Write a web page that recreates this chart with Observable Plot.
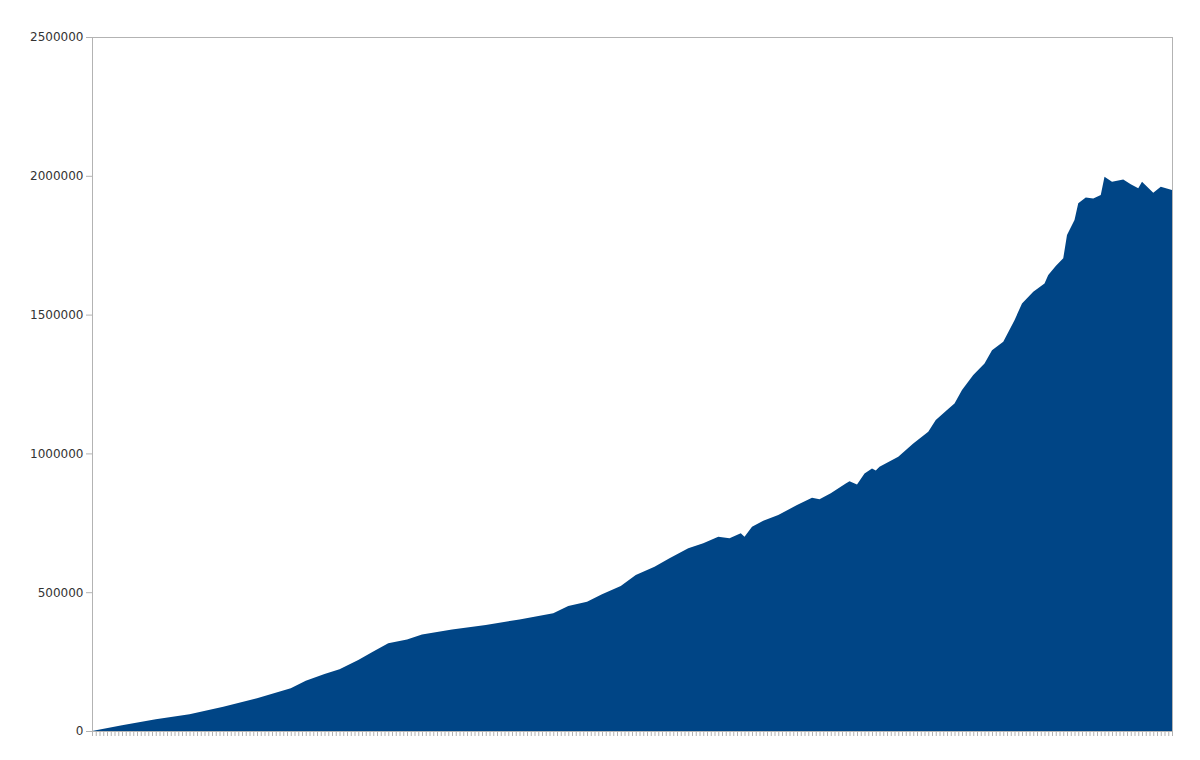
<!DOCTYPE html>
<html>
<head>
<meta charset="utf-8">
<script src="https://cdn.jsdelivr.net/npm/d3@7"></script>
<script src="https://cdn.jsdelivr.net/npm/@observablehq/plot@0.6"></script>
<style>
  html, body { margin: 0; padding: 0; background: #fff; }
  #chart { width: 1200px; height: 760px; }
</style>
</head>
<body>
<div id="chart"></div>
<script>
// Category index (month number along the x axis) and value
const months = [0, 8, 17, 26, 35, 44, 53, 57, 62, 66, 71, 75, 79, 84, 88, 96, 105, 114, 123, 127,
  132, 136, 141, 145, 150, 154, 159, 163, 167, 170, 173, 174, 176, 179, 183, 188, 192, 194, 197, 201,
  202, 204, 206, 208, 209, 210, 215, 219, 223, 225, 228, 230, 232, 235, 238, 240, 243, 246, 248, 251,
  254, 255, 257, 259, 260, 262, 263, 265, 267, 269, 270, 272, 275, 277, 279, 280, 283, 285, 288];
const values = [0, 21000, 42000, 60000, 87500, 118000, 154000, 181000, 205000, 222000, 256000, 286000, 316000, 330000, 348000, 366000, 382000, 402000, 424000, 450000,
  466000, 493000, 522000, 562000, 592000, 622000, 658000, 676000, 700000, 694000, 712000, 700000, 736000, 757000, 778000, 814000, 840000, 835000, 856000, 892000,
  900000, 888000, 928000, 946000, 938000, 952000, 988000, 1036000, 1078000, 1120000, 1156000, 1180000, 1228000, 1282000, 1324000, 1372000, 1402000, 1480000, 1540000, 1582000,
  1612000, 1643000, 1675000, 1703000, 1787000, 1841000, 1901000, 1922000, 1918000, 1931000, 1997000, 1979000, 1987000, 1970000, 1955000, 1979000, 1939000, 1961000, 1949000];
const categoryCount = 288;
const yTicks = [0, 500000, 1000000, 1500000, 2000000, 2500000];

const data = months.map((m, i) => ({month: m, value: values[i]}));
const xTicks = d3.range(0, categoryCount + 1);

const chart = Plot.plot({
  width: 1200,
  height: 760,
  marginLeft: 92,
  marginRight: 28,
  marginTop: 37,
  marginBottom: 29,
  style: {fontFamily: "DejaVu Sans", fontSize: "12px", color: "#333", background: "#fff"},
  x: {domain: [0, categoryCount], label: null},
  y: {domain: [0, 2500000], label: null},
  marks: [
    Plot.areaY(data, {x: "month", y: "value", fill: "#004586", curve: "linear"}),
    Plot.frame({stroke: "#b3b3b3"}),
    Plot.axisY({ticks: yTicks, tickFormat: d3.format("d"), tickSize: 6, tickPadding: 3, stroke: "#b3b3b3", fill: "#333", label: null, fontSize: 12}),
    Plot.axisX({ticks: xTicks, tickFormat: () => "", tickSize: 5, stroke: "#b3b3b3", label: null})
  ]
});
document.getElementById("chart").appendChild(chart);
</script>
</body>
</html>
